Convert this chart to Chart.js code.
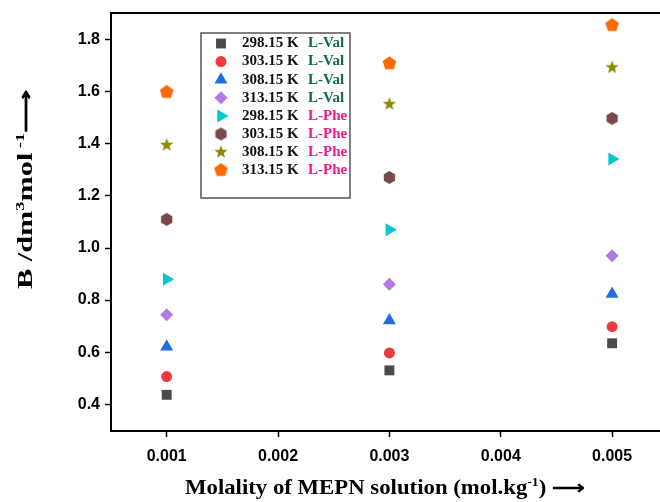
<!DOCTYPE html>
<html>
<head>
<meta charset="utf-8">
<script src="https://cdn.jsdelivr.net/npm/chart.js@4.4.1/dist/chart.umd.min.js"></script>
<style>
  html, body { margin: 0; padding: 0; background: #fff; }
  #wrap { width: 660px; height: 502px; }
</style>
</head>
<body>
<div id="wrap"><canvas id="chart" width="660" height="502"></canvas></div>
<script>
// ==========================
// Data
// ==========================
const molality = [0.001, 0.003, 0.005];
const xTicks = [0.001, 0.002, 0.003, 0.004, 0.005];
const yTicks = [0.4, 0.6, 0.8, 1.0, 1.2, 1.4, 1.6, 1.8];

const temps = ["298.15 K", "303.15 K", "308.15 K", "313.15 K", "298.15 K", "303.15 K", "308.15 K", "313.15 K"];
const solutes = ["L-Val", "L-Val", "L-Val", "L-Val", "L-Phe", "L-Phe", "L-Phe", "L-Phe"];

const val298 = [0.436, 0.530, 0.634];
const val303 = [0.506, 0.597, 0.698];
const val308 = [0.621, 0.722, 0.823];
const val313 = [0.744, 0.861, 0.970];
const phe298 = [0.880, 1.070, 1.342];
const phe303 = [1.110, 1.271, 1.498];
const phe308 = [1.396, 1.553, 1.694];
const phe313 = [1.599, 1.709, 1.856];

const seriesValues = [val298, val303, val308, val313, phe298, phe303, phe308, phe313];

// ==========================
// Marker shapes
// ==========================
function shapeCanvas(color, sides, r, innerR) {
    const size = Math.ceil(r * 2 + 2);
    const cv = document.createElement("canvas");
    cv.width = size;
    cv.height = size;
    const g = cv.getContext("2d");
    const cx = size / 2, cy = size / 2;
    const n = innerR ? sides * 2 : sides;
    g.beginPath();
    for (let i = 0; i < n; i++) {
        const a = -Math.PI / 2 + i * 2 * Math.PI / n;
        const rr = innerR && i % 2 === 1 ? innerR : r;
        const px = cx + rr * Math.cos(a), py = cy + rr * Math.sin(a);
        if (i === 0) g.moveTo(px, py); else g.lineTo(px, py);
    }
    g.closePath();
    g.fillStyle = color;
    g.fill();
    return cv;
}

const colors = ["#4a4a4a", "#ef3b3b", "#1f6fe0", "#b07ae0", "#00c8cc", "#7a4a4a", "#8c8c00", "#ff6a00"];
const styles = [
    { pointStyle: "rect", radius: 7, rotation: 0 },
    { pointStyle: "circle", radius: 5.5, rotation: 0 },
    { pointStyle: "triangle", radius: 7.5, rotation: 0 },
    { pointStyle: "rectRot", radius: 6.5, rotation: 0 },
    { pointStyle: "triangle", radius: 7.5, rotation: 90 },
    { pointStyle: shapeCanvas(colors[5], 6, 6.5), radius: 6.5, rotation: 0 },
    { pointStyle: shapeCanvas(colors[6], 5, 7, 2.9), radius: 7, rotation: 0 },
    { pointStyle: shapeCanvas(colors[7], 5, 7.2), radius: 7, rotation: 0 }
];

const datasets = seriesValues.map((vals, i) => ({
    label: temps[i] + " " + solutes[i],
    data: vals.map((v, j) => ({ x: molality[j], y: v })),
    showLine: false,
    pointStyle: styles[i].pointStyle,
    pointRadius: styles[i].radius,
    pointRotation: styles[i].rotation,
    pointBackgroundColor: colors[i],
    pointBorderColor: colors[i],
    pointBorderWidth: 0
}));

// ==========================
// Text helpers (superscripts)
// ==========================
const serif = '"Times New Roman", "Liberation Serif", serif';

// draws runs centred on x, stretched to the target length
function drawRuns(ctx, runs, x, y, size, target) {
    const mainFont = "bold " + size + "px " + serif;
    const supFont = "bold " + Math.round(size * 0.62) + "px " + serif;
    let total = 0;
    runs.forEach(r => {
        ctx.font = r.sup ? supFont : mainFont;
        total += ctx.measureText(r.t).width;
    });
    const k = target ? target / total : 1;
    ctx.save();
    ctx.translate(x - total * k / 2, y);
    ctx.scale(k, 1);
    ctx.textAlign = "left";
    ctx.textBaseline = "alphabetic";
    let cx = 0;
    runs.forEach(r => {
        ctx.font = r.sup ? supFont : mainFont;
        ctx.fillText(r.t, cx, r.sup ? -size * 0.38 : 0);
        cx += ctx.measureText(r.t).width;
    });
    ctx.restore();
}

const decorPlugin = {
    id: "decor",
    afterDraw(chart) {
        const ctx = chart.ctx;
        const a = chart.chartArea;
        ctx.save();
        // top frame line
        ctx.strokeStyle = "#000";
        ctx.lineWidth = 2;
        ctx.beginPath();
        ctx.moveTo(a.left, a.top);
        ctx.lineTo(a.right, a.top);
        ctx.stroke();

        // axis titles
        ctx.fillStyle = "#000";
        drawRuns(ctx, [
            { t: "Molality of MEPN solution (mol.kg" },
            { t: "-1", sup: true },
            { t: ") ⟶" }
        ], 385, 494, 20, 400);

        ctx.save();
        ctx.translate(32, 189);
        ctx.rotate(-Math.PI / 2);
        drawRuns(ctx, [
            { t: "B /dm" },
            { t: "3", sup: true },
            { t: "mol" },
            { t: " -1", sup: true },
            { t: "⟶" }
        ], 0, 0, 20, 200);
        ctx.restore();

        // legend box
        const bx = 201, by = 33, bw = 149, bh = 165;
        ctx.fillStyle = "#fff";
        ctx.fillRect(bx, by, bw, bh);
        ctx.strokeStyle = "#555";
        ctx.lineWidth = 1.5;
        ctx.strokeRect(bx, by, bw, bh);

        ctx.textBaseline = "middle";
        ctx.textAlign = "left";
        ctx.font = "bold 15px " + serif;
        temps.forEach((t, i) => {
            const ry = 43.5 + i * 18.1;
            ctx.fillStyle = colors[i];
            Chart.helpers.drawPoint(ctx, {
                pointStyle: styles[i].pointStyle,
                radius: styles[i].radius,
                rotation: styles[i].rotation,
                borderWidth: 0
            }, 221, ry);
            ctx.fillStyle = "#111";
            ctx.fillText(t, 242, ry);
            ctx.fillStyle = solutes[i] === "L-Val" ? "#0f6b4b" : "#f0188c";
            ctx.fillText(solutes[i], 308, ry);
        });
        ctx.restore();
    }
};

// ==========================
// Chart
// ==========================
const tickFont = { family: '"Arial", "Liberation Sans", sans-serif', size: 16, weight: "bold" };

new Chart(document.getElementById("chart"), {
    type: "scatter",
    data: { datasets },
    options: {
        responsive: false,
        animation: false,
        devicePixelRatio: 1,
        layout: { autoPadding: false, padding: { top: 13, right: 0, left: 0, bottom: 0 } },
        plugins: {
            legend: { display: false },
            tooltip: { enabled: false }
        },
        elements: { point: { hoverRadius: 0 } },
        scales: {
            x: {
                type: "linear",
                min: 0.0005,
                max: 0.00543,
                afterBuildTicks: s => { s.ticks = xTicks.map(v => ({ value: v })); },
                afterFit: s => { s.height = 71; s.paddingRight = 0; s.paddingLeft = 0; },
                ticks: {
                    callback: v => v.toFixed(3),
                    font: tickFont,
                    color: "#000",
                    padding: 10,
                    autoSkip: false,
                    maxRotation: 0
                },
                grid: { display: true, drawOnChartArea: false, drawTicks: true, tickLength: 6, tickColor: "#000", tickWidth: 1.5 },
                border: { display: true, color: "#000", width: 2 }
            },
            y: {
                min: 0.297,
                max: 1.903,
                afterBuildTicks: s => { s.ticks = yTicks.map(v => ({ value: v })); },
                afterFit: s => { s.width = 111; s.paddingTop = 0; s.paddingBottom = 0; },
                ticks: {
                    callback: v => v.toFixed(1),
                    font: tickFont,
                    color: "#000",
                    padding: 5,
                    autoSkip: false
                },
                grid: { display: true, drawOnChartArea: false, drawTicks: true, tickLength: 6, tickColor: "#000", tickWidth: 1.5 },
                border: { display: true, color: "#000", width: 2 }
            }
        }
    },
    plugins: [decorPlugin]
});
</script>
</body>
</html>
